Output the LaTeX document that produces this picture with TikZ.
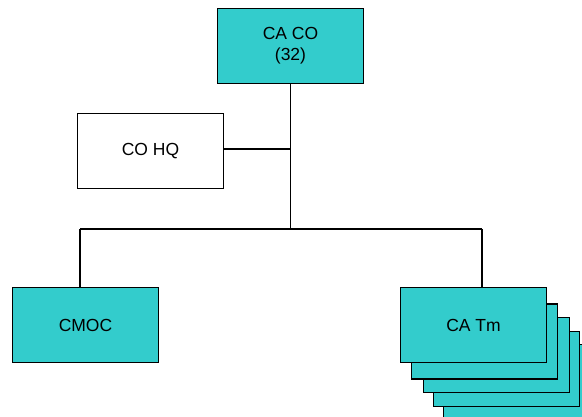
\documentclass[tikz,border=0pt]{standalone}
\usepackage{fontspec}
\setmainfont{Liberation Sans}
\definecolor{teal1}{HTML}{33CCCC}
\begin{document}
\begin{tikzpicture}[x=1pt,y=-1pt,
  unit/.style={draw=black,line width=1.6pt,minimum width=146pt,minimum height=75pt,inner sep=0pt,font=\fontsize{17.5}{21}\selectfont,align=center},
  filled/.style={unit,fill=teal1},
  link/.style={line width=1.6pt}]
\useasboundingbox (0,0) rectangle (582,417);
\begin{scope}
\clip (0,0) rectangle (582,417);
\node[filled] (tm5) at (516.5,382) {};
\node[filled] (tm4) at (506.5,369) {};
\node[filled] (tm3) at (496.5,355) {};
\node[filled] (tm2) at (484.5,341.5) {};
\end{scope}
\node[filled] (tm) at (473.5,325) {CA Tm};
\node[filled] (ca) at (290.5,46) {CA CO\\(32)};
\node[unit,fill=white] (hq) at (150.5,151) {CO HQ};
\node[filled] (cmoc) at (85.5,325) {CMOC};
\coordinate (j1) at (290.5,149);
\coordinate (j2) at (290.5,229);
\coordinate (a) at (80,229);
\coordinate (b) at (482,229);
\draw[link] (ca.south) -- (j2);
\draw[link] (hq.east |- j1) -- (j1);
\draw[link] (a) -- (b);
\draw[link] (a) -- (a |- cmoc.north);
\draw[link] (b) -- (b |- tm.north);
\end{tikzpicture}
\end{document}
